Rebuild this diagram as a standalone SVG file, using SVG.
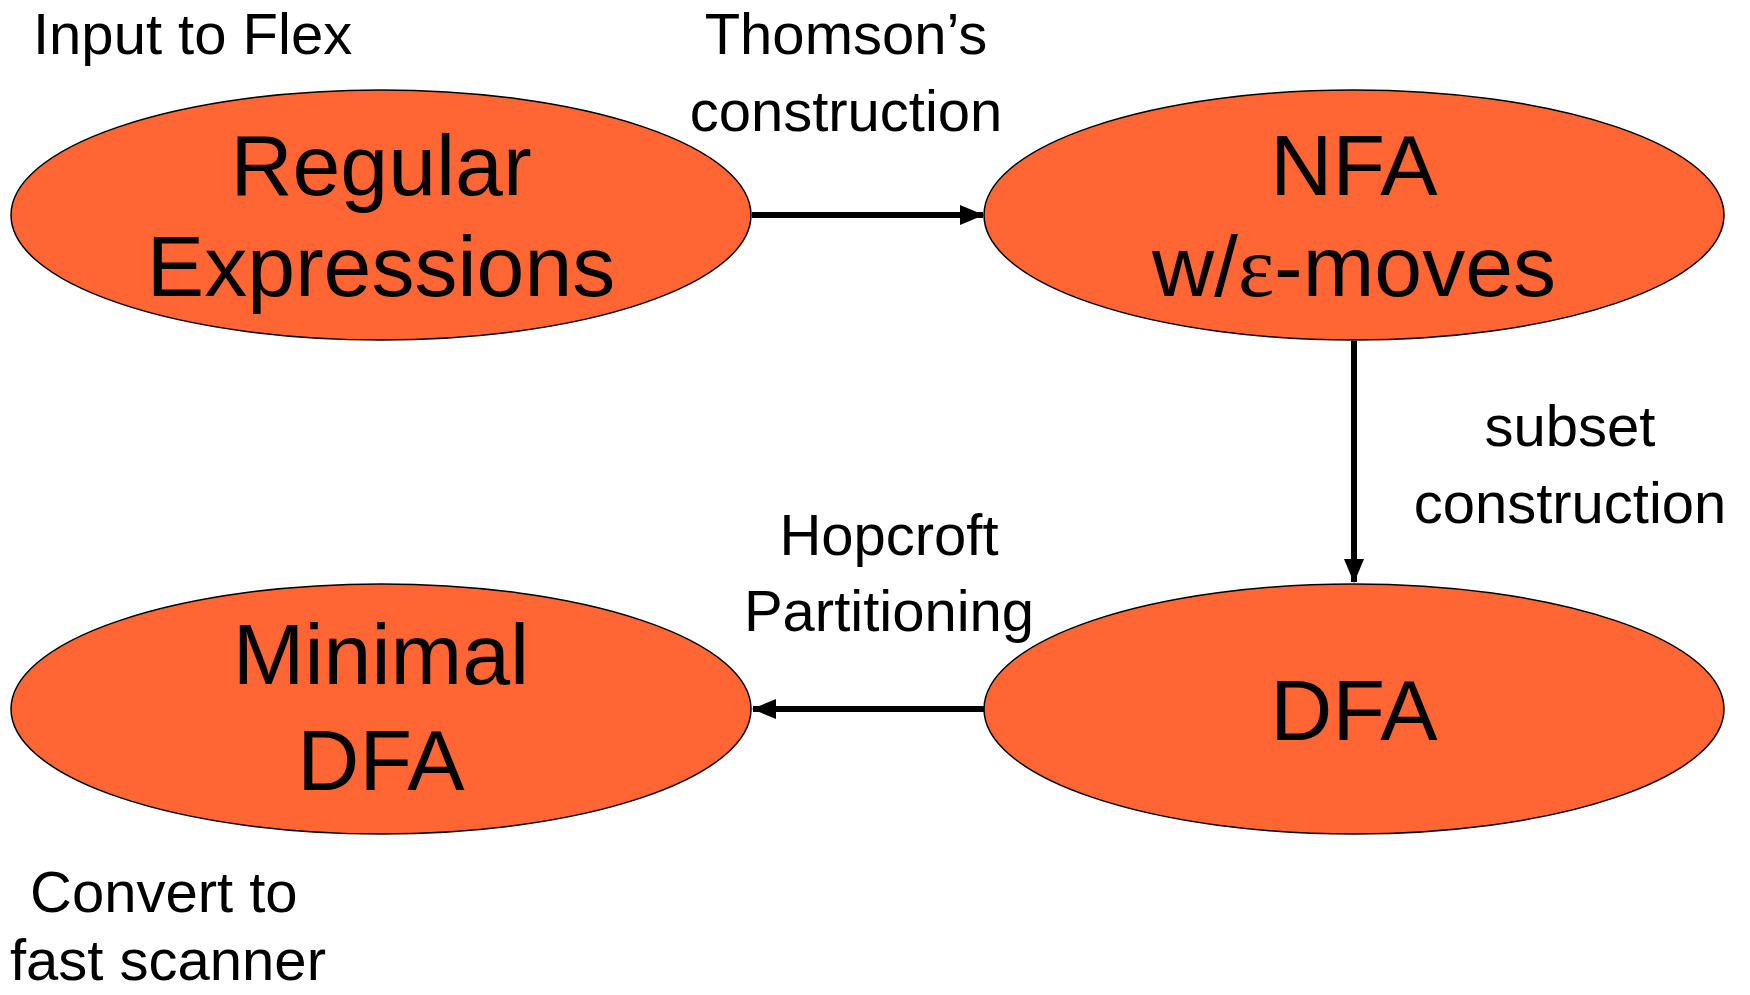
<svg xmlns="http://www.w3.org/2000/svg" width="1750" height="995" viewBox="0 0 1750 995">
<style>
.node{fill:#FF6633;stroke:#000;stroke-width:1.5}
.nt{font-family:"Liberation Sans",Arial,sans-serif;font-size:86px;text-anchor:middle;fill:#000}
.lb{font-family:"Liberation Sans",Arial,sans-serif;font-size:58px;fill:#000}
.mid{text-anchor:middle}
.eps{font-family:"Liberation Serif","Times New Roman",serif}
.edge{stroke:#000;stroke-width:6;fill:none}
</style>
<defs>
<marker id="arr" markerUnits="userSpaceOnUse" markerWidth="24" markerHeight="20" refX="23" refY="10" orient="auto">
<path d="M0,0 L24,10 L0,20 Z" fill="#000"/>
</marker>
</defs>
<rect width="1750" height="995" fill="#fff"/>
<g id="connectors">
<line class="edge" x1="752" y1="215" x2="983" y2="215" marker-end="url(#arr)"/>
<line class="edge" x1="1354" y1="341" x2="1354" y2="582" marker-end="url(#arr)"/>
<line class="edge" x1="984" y1="709" x2="753" y2="709" marker-end="url(#arr)"/>
</g>
<g id="node-regex">
<ellipse class="node" cx="381" cy="215" rx="370" ry="125"/>
<text class="nt" x="381" y="195">Regular</text>
<text class="nt" x="381" y="296">Expressions</text>
</g>
<g id="node-nfa">
<ellipse class="node" cx="1354" cy="215" rx="370" ry="125"/>
<text class="nt" x="1354" y="195">NFA</text>
<text class="nt" x="1354" y="296">w/<tspan class="eps">ε</tspan>-moves</text>
</g>
<g id="node-dfa">
<ellipse class="node" cx="1354" cy="709" rx="370" ry="125"/>
<text class="nt" x="1354" y="740">DFA</text>
</g>
<g id="node-mindfa">
<ellipse class="node" cx="381" cy="709" rx="370" ry="125"/>
<text class="nt" x="381" y="684">Minimal</text>
<text class="nt" x="381" y="790">DFA</text>
</g>
<g id="labels">
<text class="lb" x="33" y="54">Input to Flex</text>
<text class="lb mid" x="846" y="54">Thomson’s</text>
<text class="lb mid" x="846" y="131">construction</text>
<text class="lb mid" x="1570" y="446">subset</text>
<text class="lb mid" x="1570" y="523">construction</text>
<text class="lb mid" x="889" y="555">Hopcroft</text>
<text class="lb mid" x="889" y="631">Partitioning</text>
<text class="lb" x="30" y="912">Convert to</text>
<text class="lb" x="10" y="980">fast scanner</text>
</g>
</svg>
